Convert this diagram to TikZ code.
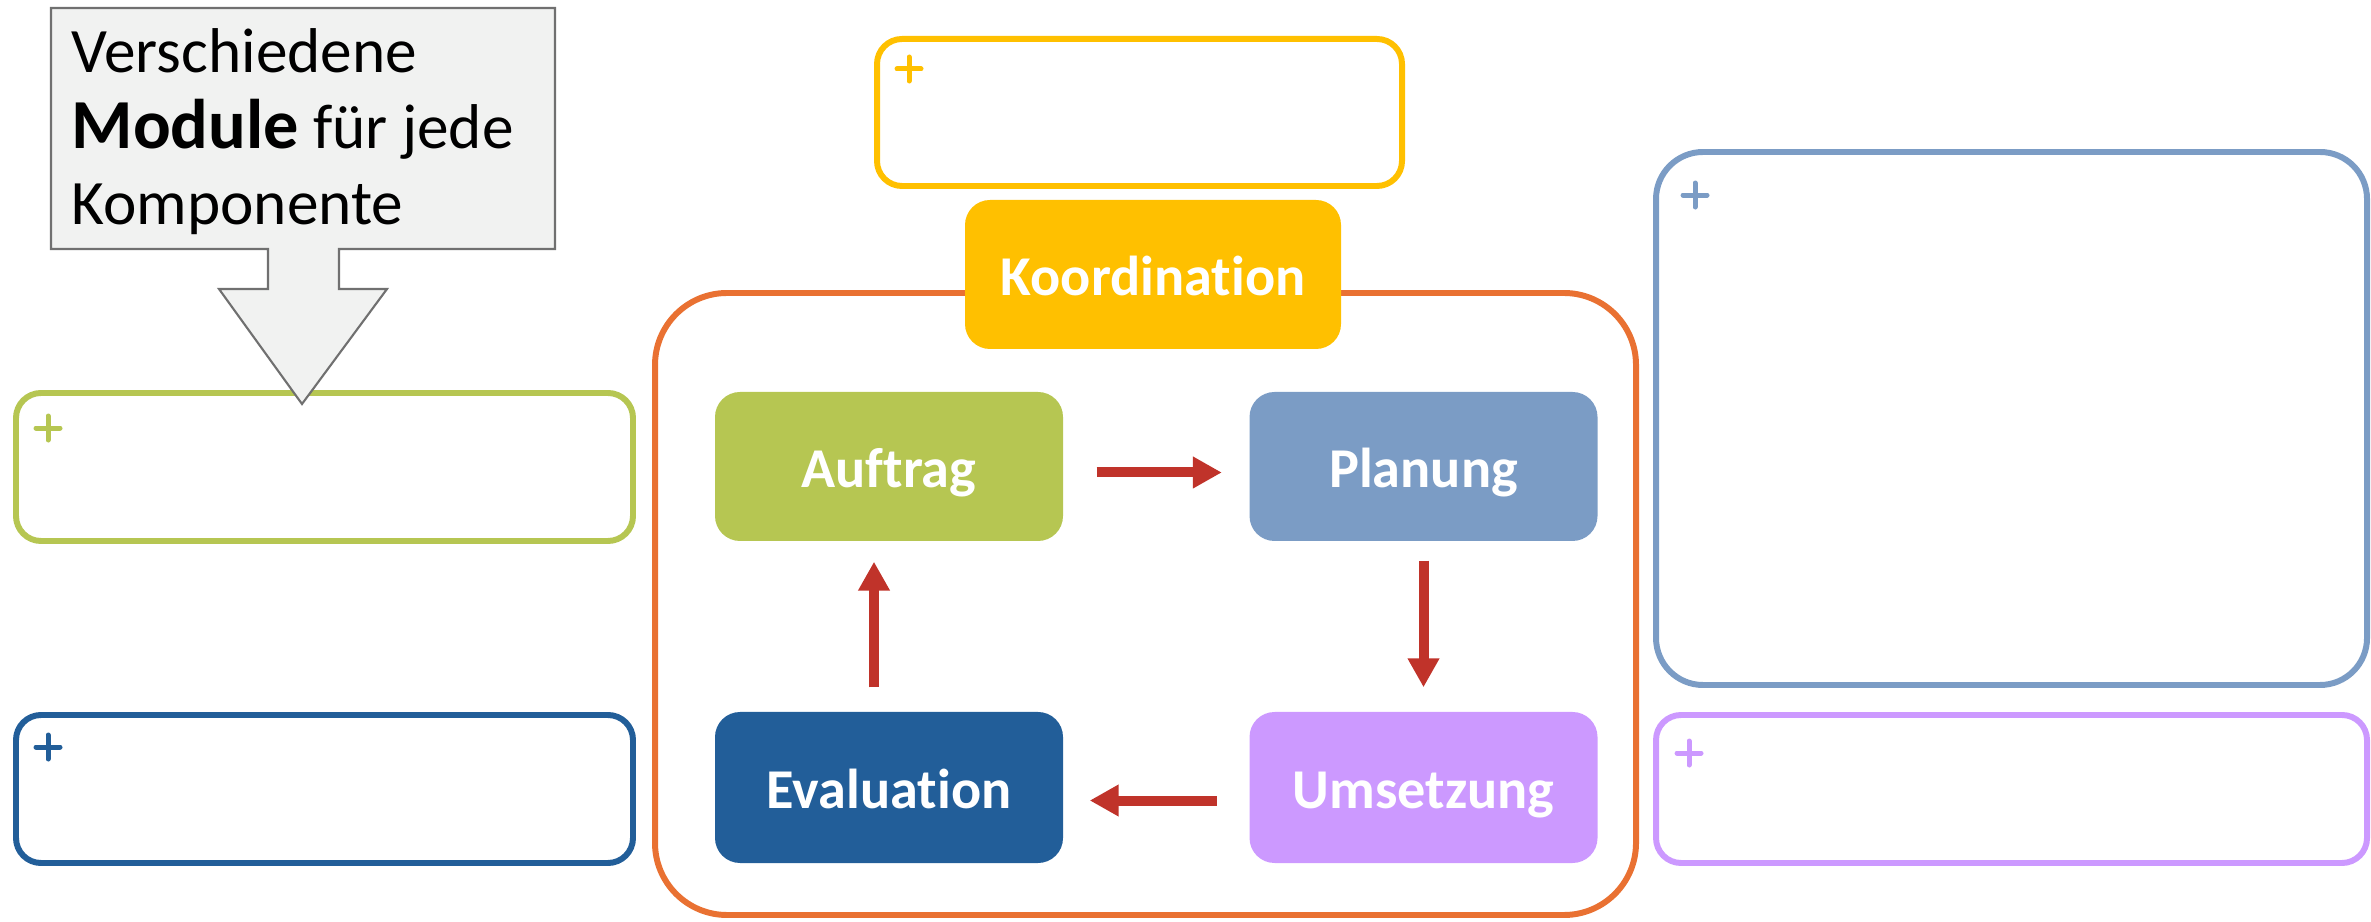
\documentclass[tikz,border=0pt]{standalone}
\usepackage{fontspec}
\setmainfont{Carlito}[Ligatures={NoCommon}]
\usetikzlibrary{arrows.meta, positioning, calc}
\definecolor{koordcolor}{RGB}{255, 192, 0}
\definecolor{auftragcolor}{RGB}{182, 198, 82}
\definecolor{planungcolor}{RGB}{123, 156, 197}
\definecolor{evalcolor}{RGB}{34, 94, 153}
\definecolor{umsetzcolor}{RGB}{204, 153, 255}
\definecolor{framecolor}{RGB}{233, 113, 50}
\definecolor{arrowcolor}{RGB}{192, 51, 42}
\definecolor{hintfill}{RGB}{241, 242, 241}
\definecolor{hintdraw}{RGB}{112, 112, 112}

\begin{document}
\begin{tikzpicture}[
    stage/.style={rectangle, rounded corners=0.25cm, minimum width=3.48cm, minimum height=1.49cm, inner sep=0pt, text=white, font=\fontsize{16}{19}\selectfont\bfseries, text height=0.42cm, text depth=0pt},
    slot/.style={rectangle, rounded corners=0.25cm, draw, line width=1.7pt, minimum width=6.17cm, minimum height=1.48cm, inner sep=0pt},
    flow/.style={-{Triangle[length=0.29cm, width=0.30cm]}, line width=0.1cm, arrowcolor},
    plus/.style={line width=0.05cm, line cap=round},
    hint/.style={align=left, inner sep=0pt, font=\fontsize{18}{21.6}\selectfont}
]
\useasboundingbox (0, 0) rectangle (23.71, 9.21);

% Empty slots around the cycle
\node[slot, draw=koordcolor, minimum width=5.25cm, minimum height=1.47cm] (koordslot) at (11.395, 8.085) {};
\node[slot, draw=auftragcolor] (auftragslot) at (3.245, 4.54) {};
\node[slot, draw=evalcolor] (evalslot) at (3.245, 1.32) {};
\node[slot, draw=planungcolor, rounded corners=0.47cm, minimum width=7.11cm, minimum height=5.33cm] (planungslot) at (20.115, 5.025) {};
\node[slot, draw=umsetzcolor, minimum width=7.11cm] (umsetzslot) at (20.115, 1.32) {};

\foreach \b/\c/\dx/\dy in {koordslot/koordcolor/0.35/0.33, auftragslot/auftragcolor/0.35/0.38, evalslot/evalcolor/0.35/0.35, planungslot/planungcolor/0.42/0.46, umsetzslot/umsetzcolor/0.36/0.41}
    \draw[plus, \c] ([shift={(\dx,-\dy)}]\b.north west) ++(-0.12, 0) -- ++(0.24, 0) ++(-0.12, 0.12) -- ++(0, -0.24);

% Hint arrow
\draw[fill=hintfill, draw=hintdraw, line width=0.6pt] (0.51, 9.13) -- (5.55, 9.13) -- (5.55, 6.72) -- (3.39, 6.72) -- (3.39, 6.32) -- (3.87, 6.32) -- (3.02, 5.17) -- (2.19, 6.32) -- (2.68, 6.32) -- (2.68, 6.72) -- (0.51, 6.72) -- cycle;
\node[hint, anchor=north west] (hinttext) at (0.71, 8.93) {Verschiedene\\{\fontsize{20}{21.6}\selectfont\bfseries Module} für jede\\Komponente};

% Cycle
\node[draw=framecolor, line width=1.7pt, rounded corners=0.72cm, minimum width=9.81cm, minimum height=6.22cm] (frame) at (11.455, 3.17) {};
\node[stage, fill=koordcolor, minimum width=3.76cm] (koord) at (11.53, 6.465) {Koordination};

\node[stage, fill=auftragcolor] (auftrag) at (8.89, 4.545) {Auftrag};
\node[stage, fill=planungcolor] (planung) at (14.235, 4.545) {Planung};
\node[stage, fill=umsetzcolor, minimum height=1.51cm] (umsetz) at (14.235, 1.335) {Umsetzung};
\node[stage, fill=evalcolor, minimum height=1.51cm] (eval) at (8.89, 1.335) {Evaluation};

\draw[flow, shorten <=0.33cm, shorten >=0.27cm] ([yshift=-0.06cm]auftrag.east) -- ([yshift=-0.06cm]planung.west);
\draw[flow, shorten <=0.19cm, shorten >=0.24cm] (planung.south) -- (umsetz.north);
\draw[flow, shorten <=0.32cm, shorten >=0.26cm] ([yshift=-0.13cm]umsetz.west) -- ([yshift=-0.13cm]eval.east);
\draw[flow, shorten <=0.24cm, shorten >=0.20cm] ([xshift=-0.15cm]eval.north) -- ([xshift=-0.15cm]auftrag.south);

\end{tikzpicture}
\end{document}
